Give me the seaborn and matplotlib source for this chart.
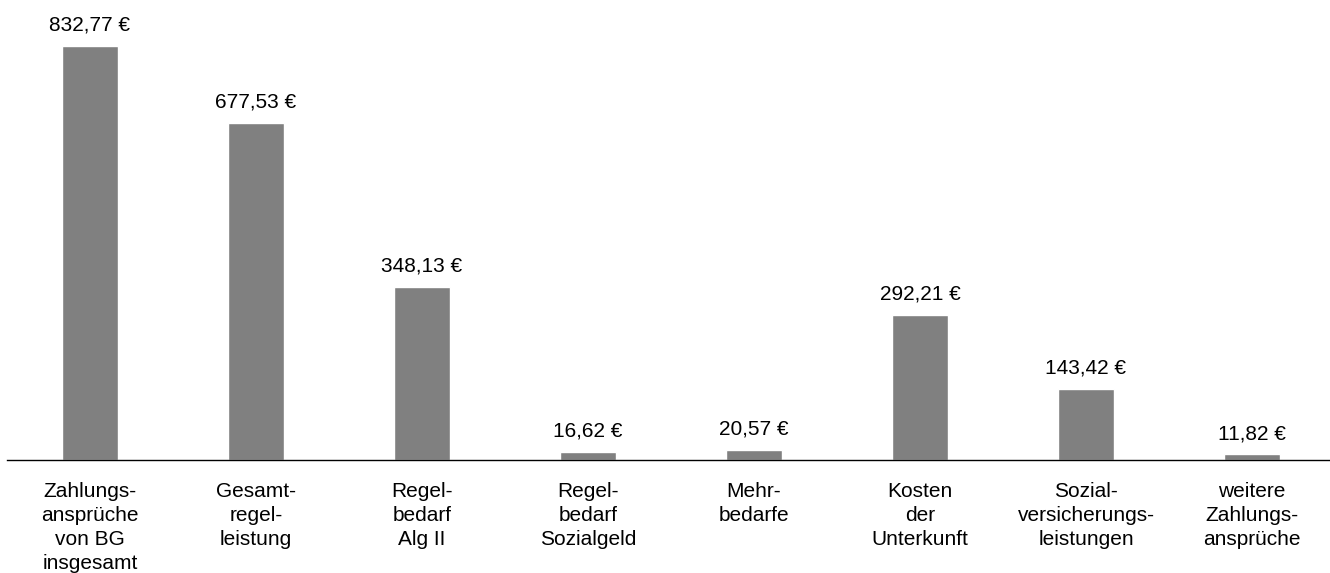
import matplotlib
matplotlib.use("Agg")
import matplotlib.pyplot as plt
import seaborn as sns
import pandas as pd

categories = [
    "Zahlungs-\nansprüche\nvon BG\ninsgesamt",
    "Gesamt-\nregel-\nleistung",
    "Regel-\nbedarf\nAlg II",
    "Regel-\nbedarf\nSozialgeld",
    "Mehr-\nbedarfe",
    "Kosten\nder\nUnterkunft",
    "Sozial-\nversicherungs-\nleistungen",
    "weitere\nZahlungs-\nansprüche",
]
values = [832.77, 677.53, 348.13, 16.62, 20.57, 292.21, 143.42, 11.82]

sns.set_theme(style="white")
plt.rcParams['font.family'] = ['Liberation Sans', 'DejaVu Sans']

df = pd.DataFrame({"cat": categories, "val": values})

fig = plt.figure(figsize=(13.3, 5.73), dpi=100)
ax = fig.add_axes([7/1330, 1 - 460/573, 1323/1330, 460/573])
sns.barplot(data=df, x="cat", y="val", color="#808080", width=0.34,
            saturation=1, ax=ax)

ax.set_ylim(0, 925)
ax.set_xlim(-0.5, len(categories) - 0.53)
for s in ["top", "left", "right"]:
    ax.spines[s].set_visible(False)
ax.spines["bottom"].set_color("black")
ax.spines["bottom"].set_linewidth(1.0)
ax.set_yticks([])
ax.set_xlabel("")
ax.set_ylabel("")
ax.tick_params(axis="x", length=0, pad=16, labelsize=15, colors="black")
for lbl in ax.get_xticklabels():
    lbl.set_linespacing(1.33)

labels = [f"{v:.2f}".replace(".", ",") + " €" for v in values]
ax.bar_label(ax.containers[0], labels=labels, padding=8, fontsize=15, color="black")

fig.savefig("out.png", dpi=100)
